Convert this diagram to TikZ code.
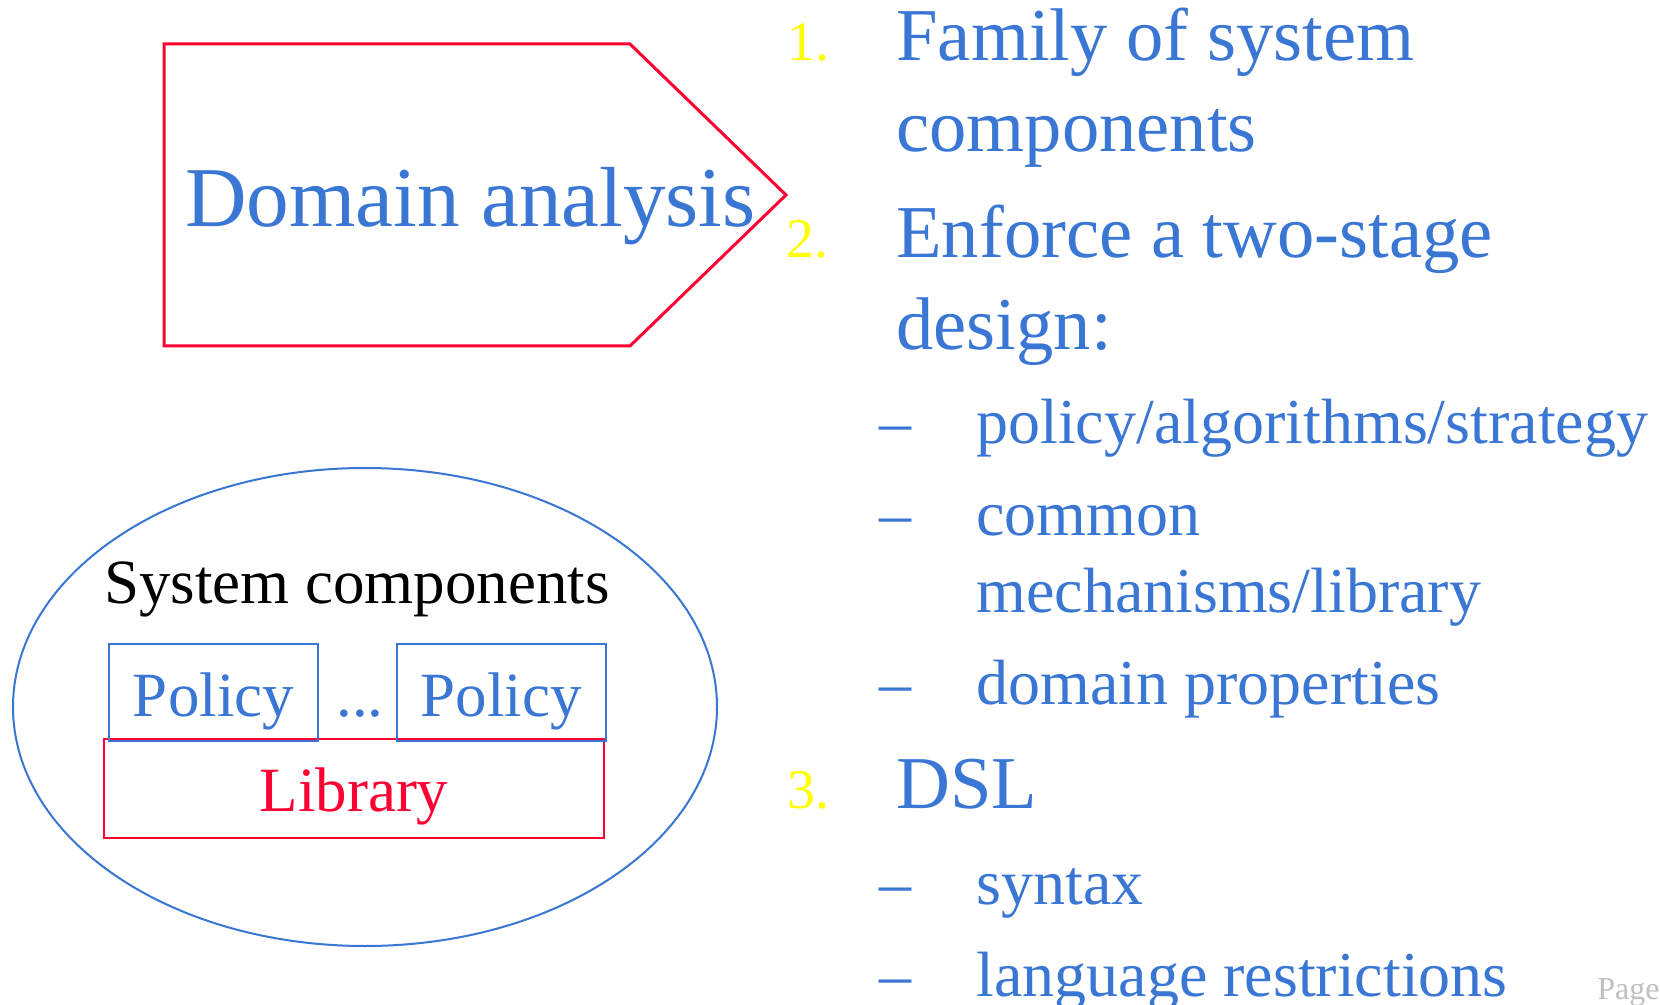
\documentclass[tikz,border=0pt]{standalone}
\usepackage{fontspec}
\setmainfont{Liberation Serif}

\definecolor{slideblue}{HTML}{3A76D3}
\definecolor{slidered}{HTML}{FF0033}
\definecolor{slideyellow}{HTML}{FFFF00}
\definecolor{pagegray}{HTML}{BFBFBF}

\tikzset{
  txt/.style={inner sep=0pt, anchor=base west},
  lvlone/.style={txt, text=slideblue, font=\fontsize{37.3}{44}\selectfont},
  lvltwo/.style={txt, text=slideblue, font=\fontsize{32}{38}\selectfont},
  itemnum/.style={txt, text=slideyellow, font=\fontsize{28}{34}\selectfont},
  boxtext/.style={inner sep=0pt, anchor=base, font=\fontsize{31.5}{38}\selectfont},
  policybox/.style={draw=slideblue, line width=1pt, inner sep=0pt,
    minimum width=104.5pt, minimum height=48.5pt},
  librarybox/.style={draw=slidered, line width=1pt, inner sep=0pt,
    minimum width=250pt, minimum height=49.5pt},
}

\begin{document}
\begin{tikzpicture}[x=0.5pt, y=-0.5pt]
\fill[white] (0,0) rectangle (1660,1005);
\useasboundingbox (0,0) rectangle (1660,1005);

% arrow-shaped banner
\draw[slidered, line width=1.5pt] (164,44) -- (630,44) -- (786,195)
  -- (630,346) -- (164,346) -- cycle;
\node[txt, text=slideblue, font=\fontsize{42.6}{50}\selectfont] (domain) at (185,227) {Domain analysis};

% system components
\draw[slideblue, line width=1pt] (365,707) ellipse [x radius=352, y radius=239];
\node[boxtext] (syscomp) at (357,603) {System components};
\node[librarybox] (lib) at (354,788.5) {};
\node[policybox] (pol1) at (213.5,692.5) {};
\node[policybox] (pol2) at (501,692.5) {};
\node[boxtext, text=slideblue] (pol1txt) at (pol1.center |- 0,716) {Policy};
\node[boxtext, text=slideblue] (pol2txt) at (pol2.center |- 0,716) {Policy};
\node[boxtext, text=slideblue] (dots) at (360,716) {...};
\node[boxtext, text=slidered] (libtxt) at (lib.center |- 0,811) {Library};

% numbered list
\node[itemnum] (n1) at (787,61) {1.};
\node[itemnum] (n2) at (786,258) {2.};
\node[itemnum] (n3) at (787,808) {3.};
\node[lvlone] (fam) at (896,61) {Family of system};
\node[lvlone] (famb) at (896,152) {components};
\node[lvlone] (enf) at (896,258) {Enforce a two-stage};
\node[lvlone] (enfb) at (896,350) {design:};
\node[lvlone] (dsl) at (896,808) {DSL};

% sub-items
\foreach \y in {444,535,704,904,996}
  \node[lvltwo] (dash\y) at (879,\y) {–};
\node[lvltwo] (pol) at (976,444) {policy/algorithms/strategy};
\node[lvltwo] (mech) at (976,535) {common};
\node[lvltwo] (mechb) at (976,612) {mechanisms/library};
\node[lvltwo] (props) at (976,704) {domain properties};
\node[lvltwo] (syn) at (976,904) {syntax};
\node[lvltwo] (restr) at (976,996) {language restrictions};

\node[txt, text=pagegray, font=\fontsize{16}{19}\selectfont] (page) at (1597,999) {Page};
\end{tikzpicture}
\end{document}
